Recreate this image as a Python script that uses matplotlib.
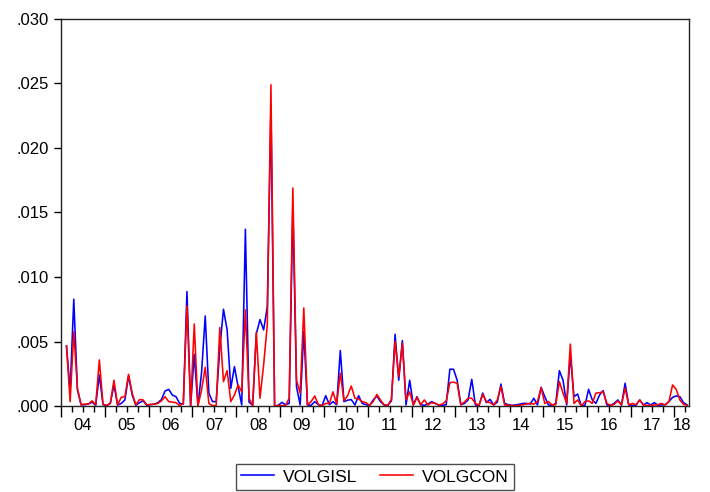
import numpy as np
import matplotlib
matplotlib.use("Agg")
import matplotlib.pyplot as plt
from matplotlib.ticker import FixedLocator, FuncFormatter
import matplotlib.transforms as mtrans

plt.rcParams['font.family'] = ['Liberation Sans', 'DejaVu Sans']

# monthly observations, index 0 = 2004M01 (first observation missing)
month_index = np.arange(1, 172)

# values in units of 1e-3
volgisl = [
    4.66, 1.2, 8.28, 1.24, 0.1, 0.1, 0.15, 0.3, 0.05, 2.4,
    0.1, 0.03, 0.2, 1.63, 0.08, 0.2, 0.47, 2.33, 0.85, 0.05,
    0.26, 0.4, 0.05, 0.1, 0.15, 0.25, 0.5, 1.16, 1.29, 0.85,
    0.72, 0.2, 0.15, 8.87, 0.0, 4.0, 0.0, 2.6, 6.98, 1.0,
    0.34, 0.34, 4.5, 7.5, 5.9, 1.37, 3.05, 1.5, 0.08, 13.7,
    0.3, 0.05, 5.6, 6.7, 5.9, 7.7, 23.1, 0.0, 0.05, 0.28,
    0.1, 0.2, 15.5, 1.5, 0.08, 5.77, 0.08, 0.05, 0.34, 0.1,
    0.03, 0.8, 0.1, 0.34, 0.1, 4.3, 0.34, 0.45, 0.5, 0.08,
    0.8, 0.2, 0.1, 0.03, 0.47, 0.78, 0.34, 0.08, 0.05, 0.4,
    5.56, 2.0, 5.07, 0.08, 2.0, 0.08, 0.72, 0.1, 0.05, 0.15,
    0.34, 0.2, 0.05, 0.05, 0.1, 2.85, 2.85, 2.0, 0.1, 0.2,
    0.47, 2.07, 0.08, 0.05, 1.0, 0.26, 0.52, 0.08, 0.3, 1.7,
    0.2, 0.1, 0.05, 0.08, 0.13, 0.2, 0.2, 0.15, 0.6, 0.08,
    1.45, 0.72, 0.08, 0.05, 0.2, 2.74, 2.0, 0.08, 3.96, 0.72,
    0.93, 0.0, 0.05, 1.29, 0.47, 0.2, 0.85, 1.19, 0.08, 0.05,
    0.2, 0.47, 0.08, 1.76, 0.08, 0.05, 0.05, 0.47, 0.08, 0.26,
    0.08, 0.26, 0.05, 0.08, 0.1, 0.34, 0.67, 0.78, 0.72, 0.26, 0.08,
]
volgcon = [
    4.66, 0.34, 5.77, 1.37, 0.08, 0.15, 0.15, 0.4, 0.1, 3.57,
    0.15, 0.03, 0.2, 2.0, 0.08, 0.67, 0.72, 2.46, 1.0, 0.08,
    0.5, 0.47, 0.08, 0.13, 0.13, 0.2, 0.4, 0.72, 0.34, 0.3,
    0.26, 0.03, 0.2, 7.76, 0.0, 6.36, 0.0, 1.24, 3.0, 0.2,
    0.03, 0.03, 6.08, 1.89, 2.74, 0.34, 0.85, 1.63, 1.1, 7.45,
    0.6, 0.05, 5.7, 0.6, 3.2, 6.3, 24.9, 0.0, 0.05, 0.03,
    0.05, 0.6, 16.9, 2.0, 1.0, 7.6, 0.08, 0.34, 0.78, 0.1,
    0.03, 0.2, 0.2, 1.1, 0.15, 2.54, 0.4, 0.8, 1.55, 0.6,
    0.55, 0.34, 0.26, 0.05, 0.34, 0.9, 0.47, 0.08, 0.05, 0.52,
    5.0, 2.28, 4.86, 0.47, 1.1, 0.08, 0.67, 0.1, 0.47, 0.08,
    0.26, 0.2, 0.08, 0.15, 0.4, 1.8, 1.85, 1.76, 0.1, 0.3,
    0.6, 0.6, 0.2, 0.05, 0.9, 0.34, 0.26, 0.08, 0.47, 1.5,
    0.08, 0.05, 0.03, 0.03, 0.05, 0.1, 0.15, 0.2, 0.15, 0.34,
    1.42, 0.2, 0.34, 0.08, 0.1, 1.89, 1.0, 0.2, 4.8, 0.2,
    0.47, 0.0, 0.34, 0.4, 0.2, 1.0, 1.03, 1.1, 0.2, 0.05,
    0.13, 0.4, 0.08, 1.37, 0.08, 0.2, 0.1, 0.47, 0.08, 0.05,
    0.05, 0.08, 0.1, 0.2, 0.08, 0.34, 1.63, 1.29, 0.47, 0.13, 0.05,
]

year_labels = ["04", "05", "06", "07", "08", "09", "10", "11",
               "12", "13", "14", "15", "16", "17", "18"]
y_ticks = [0.000, 0.005, 0.010, 0.015, 0.020, 0.025, 0.030]
n_months = 172  # 2004M01 .. 2018M04

fig = plt.figure(figsize=(7.1, 4.92), dpi=100)
ax = fig.add_axes([61 / 710, 1 - 406 / 492, (689 - 61) / 710, (406 - 19) / 492])

x = month_index + 0.5
ax.plot(x, np.array(volgisl) * 1e-3, color='#0000ff', lw=1.15, label='VOLGISL')
ax.plot(x, np.array(volgcon) * 1e-3, color='#ff0000', lw=1.15, label='VOLGCON')

ax.set_xlim(0, n_months)
ax.set_ylim(0, 0.030)

ax.yaxis.set_major_locator(FixedLocator(y_ticks))
ax.yaxis.set_major_formatter(FuncFormatter(lambda v, p: ("%.3f" % v)[1:]))
ax.tick_params(axis='y', direction='out', length=5, width=1, labelsize=12, pad=4)

ax.xaxis.set_major_locator(FixedLocator(np.arange(0, n_months + 1, 12)))
ax.xaxis.set_minor_locator(FixedLocator(np.arange(0, n_months + 1, 3)))
ax.xaxis.set_major_formatter(FuncFormatter(lambda v, p: ""))
ax.tick_params(axis='x', which='major', direction='out', length=8, width=1)
ax.tick_params(axis='x', which='minor', direction='out', length=4, width=1)

trans = mtrans.blended_transform_factory(ax.transData, ax.transAxes)
for j, lab in enumerate(year_labels):
    start = 12 * j
    end = min(start + 12, n_months)
    ax.text((start + end) / 2, -0.030, lab, transform=trans, ha='center', va='top',
            fontsize=12)

for s in ax.spines.values():
    s.set_linewidth(1.0)
    s.set_color('#222222')

leg = fig.legend(loc='center', bbox_to_anchor=(375 / 710, 1 - 477 / 492), ncol=2,
                 frameon=True, fancybox=False, edgecolor='#222222', fontsize=12.5,
                 handlelength=1.9, columnspacing=1.3, borderpad=0.3, borderaxespad=0,
                 handletextpad=0.5)
leg.get_frame().set_linewidth(1.0)
leg._legend_box.sep = 0
for lp in [leg]:
    lp.borderpad = 0.3

# widen frame padding horizontally a little
leg.set_bbox_to_anchor((375 / 710, 1 - 477 / 492), transform=fig.transFigure)

fig.savefig('out.png', dpi=100)
